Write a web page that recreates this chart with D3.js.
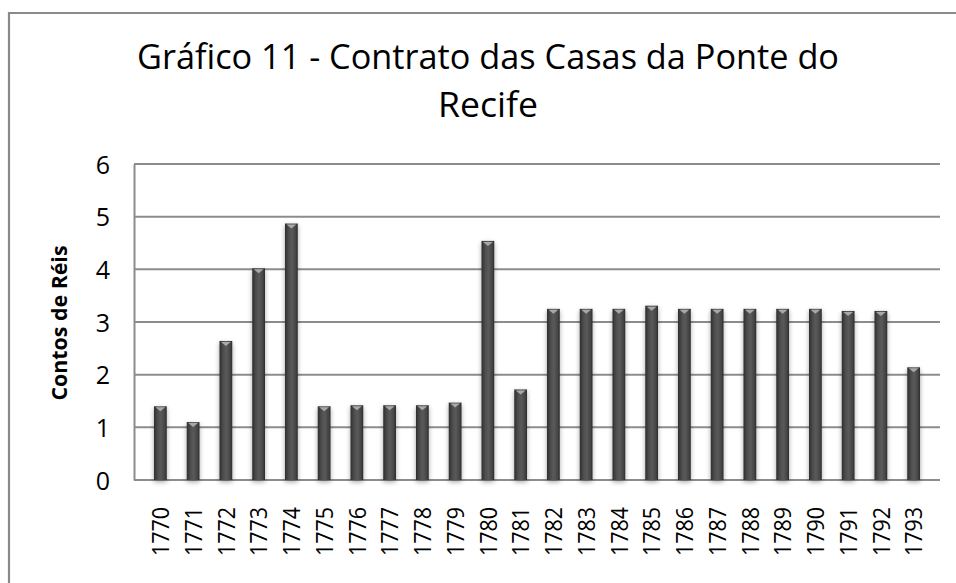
<!DOCTYPE html>
<html>
<head>
<meta charset="utf-8">
<script src="https://cdn.jsdelivr.net/npm/d3@7"></script>
<style>
  html, body { margin: 0; padding: 0; background: #fff; }
  svg { display: block; }
</style>
</head>
<body>
<div id="chart"></div>
<script>
// Chart data
const years = ['1770', '1771', '1772', '1773', '1774', '1775', '1776', '1777', '1778', '1779', '1780', '1781',
  '1782', '1783', '1784', '1785', '1786', '1787', '1788', '1789', '1790', '1791', '1792', '1793'];
const contos = [1.4, 1.1, 2.64, 4.02, 4.87, 1.4, 1.42, 1.42, 1.42, 1.47, 4.54, 1.72,
  3.25, 3.25, 3.25, 3.31, 3.25, 3.25, 3.25, 3.25, 3.25, 3.21, 3.21, 2.14];
const yTicks = [0, 1, 2, 3, 4, 5, 6];
const titleLines = ['Gráfico 11 - Contrato das Casas da Ponte do', 'Recife'];
const yLabel = 'Contos de Réis';

const W = 956, H = 583;
const plot = { left: 134, right: 940, top: 164, bottom: 480 };
const font = '"Open Sans", "DejaVu Sans", sans-serif';

const svg = d3.select('#chart').append('svg')
  .attr('width', W).attr('height', H);

const defs = svg.append('defs');

// horizontal gradient gives the bars their rounded look
const grad = defs.append('linearGradient').attr('id', 'barGrad')
  .attr('x1', '0%').attr('x2', '100%').attr('y1', '0%').attr('y2', '0%');
grad.append('stop').attr('offset', '0%').attr('stop-color', '#2e2e2e');
grad.append('stop').attr('offset', '30%').attr('stop-color', '#4e4e4e');
grad.append('stop').attr('offset', '55%').attr('stop-color', '#5a5a5a');
grad.append('stop').attr('offset', '85%').attr('stop-color', '#444');
grad.append('stop').attr('offset', '100%').attr('stop-color', '#2a2a2a');

const shadow = defs.append('filter').attr('id', 'shadow')
  .attr('x', '-60%').attr('y', '-10%').attr('width', '220%').attr('height', '125%');
shadow.append('feGaussianBlur').attr('in', 'SourceAlpha').attr('stdDeviation', 2.5);
shadow.append('feOffset').attr('dx', 0).attr('dy', 2).attr('result', 'b');
shadow.append('feComponentTransfer').append('feFuncA').attr('type', 'linear').attr('slope', 0.35);
const merge = shadow.append('feMerge');
merge.append('feMergeNode');
merge.append('feMergeNode').attr('in', 'SourceGraphic');

// outer chart border (runs off the right and bottom edge)
svg.append('path')
  .attr('d', `M9,${H + 5} V13 H${W + 5}`)
  .attr('fill', 'none').attr('stroke', '#8a8a8a').attr('stroke-width', 2.2);

// title
const title = svg.append('g');
titleLines.forEach((line, i) => {
  const t = title.append('text')
    .attr('x', 488).attr('y', 69 + i * 48)
    .attr('text-anchor', 'middle')
    .attr('font-family', font).attr('font-size', 35)
    .attr('fill', '#000')
    .text(line);
  if (i === 0) t.attr('textLength', 702).attr('lengthAdjust', 'spacingAndGlyphs');
  else t.attr('textLength', 100).attr('lengthAdjust', 'spacingAndGlyphs');
});

const x = d3.scaleBand().domain(years).range([plot.left, plot.right]).padding(0.61);
const y = d3.scaleLinear().domain([0, 6]).range([plot.bottom, plot.top]);

// gridlines
svg.append('g')
  .selectAll('line')
  .data(yTicks.slice(1))
  .join('line')
  .attr('x1', plot.left).attr('x2', plot.right)
  .attr('y1', d => y(d)).attr('y2', d => y(d))
  .attr('stroke', '#8c8c8c').attr('stroke-width', 2);

// y axis
const yAxis = svg.append('g')
  .attr('transform', `translate(${plot.left},0)`)
  .call(d3.axisLeft(y).tickValues(yTicks).tickFormat(d3.format('d')).tickSize(0).tickPadding(24));
yAxis.select('.domain').attr('stroke', '#8c8c8c').attr('stroke-width', 2);
yAxis.selectAll('text')
  .attr('font-family', font).attr('font-size', 25).attr('fill', '#000')
  .attr('dy', '0.36em');

// x axis
const xAxis = svg.append('g')
  .attr('transform', `translate(0,${plot.bottom})`)
  .call(d3.axisBottom(x).tickSize(0));
xAxis.select('.domain').attr('d', `M${plot.left},0H${plot.right}`)
  .attr('stroke', '#8c8c8c').attr('stroke-width', 2);
xAxis.selectAll('text')
  .attr('font-family', font).attr('font-size', 24).attr('fill', '#000')
  .attr('text-anchor', 'end')
  .attr('transform', 'rotate(-90)')
  .attr('textLength', 49).attr('lengthAdjust', 'spacingAndGlyphs')
  .attr('x', -27).attr('y', 0).attr('dy', '0.36em');

// y axis title
svg.append('text')
  .attr('transform', `translate(67,${(plot.top + plot.bottom) / 2 + 1}) rotate(-90)`)
  .attr('text-anchor', 'middle')
  .attr('font-family', font).attr('font-size', 21).attr('font-weight', 'bold')
  .attr('fill', '#000')
  .attr('textLength', 155).attr('lengthAdjust', 'spacingAndGlyphs')
  .text(yLabel);

// bars
const bars = svg.append('g').selectAll('g')
  .data(contos.map((v, i) => ({ year: years[i], value: v })))
  .join('g');

bars.append('rect')
  .attr('x', d => x(d.year))
  .attr('y', d => y(d.value))
  .attr('width', x.bandwidth())
  .attr('height', d => y(0) - y(d.value))
  .attr('fill', 'url(#barGrad)')
  .attr('filter', 'url(#shadow)');

// light bevel triangle on top of each bar
bars.append('path')
  .attr('d', d => {
    const x0 = x(d.year), w = x.bandwidth(), t = y(d.value);
    return `M${x0 + 1.5},${t + 1} H${x0 + w - 1.5} L${x0 + w / 2},${t + 5} Z`;
  })
  .attr('fill', '#a8a8a8');
</script>
</body>
</html>
